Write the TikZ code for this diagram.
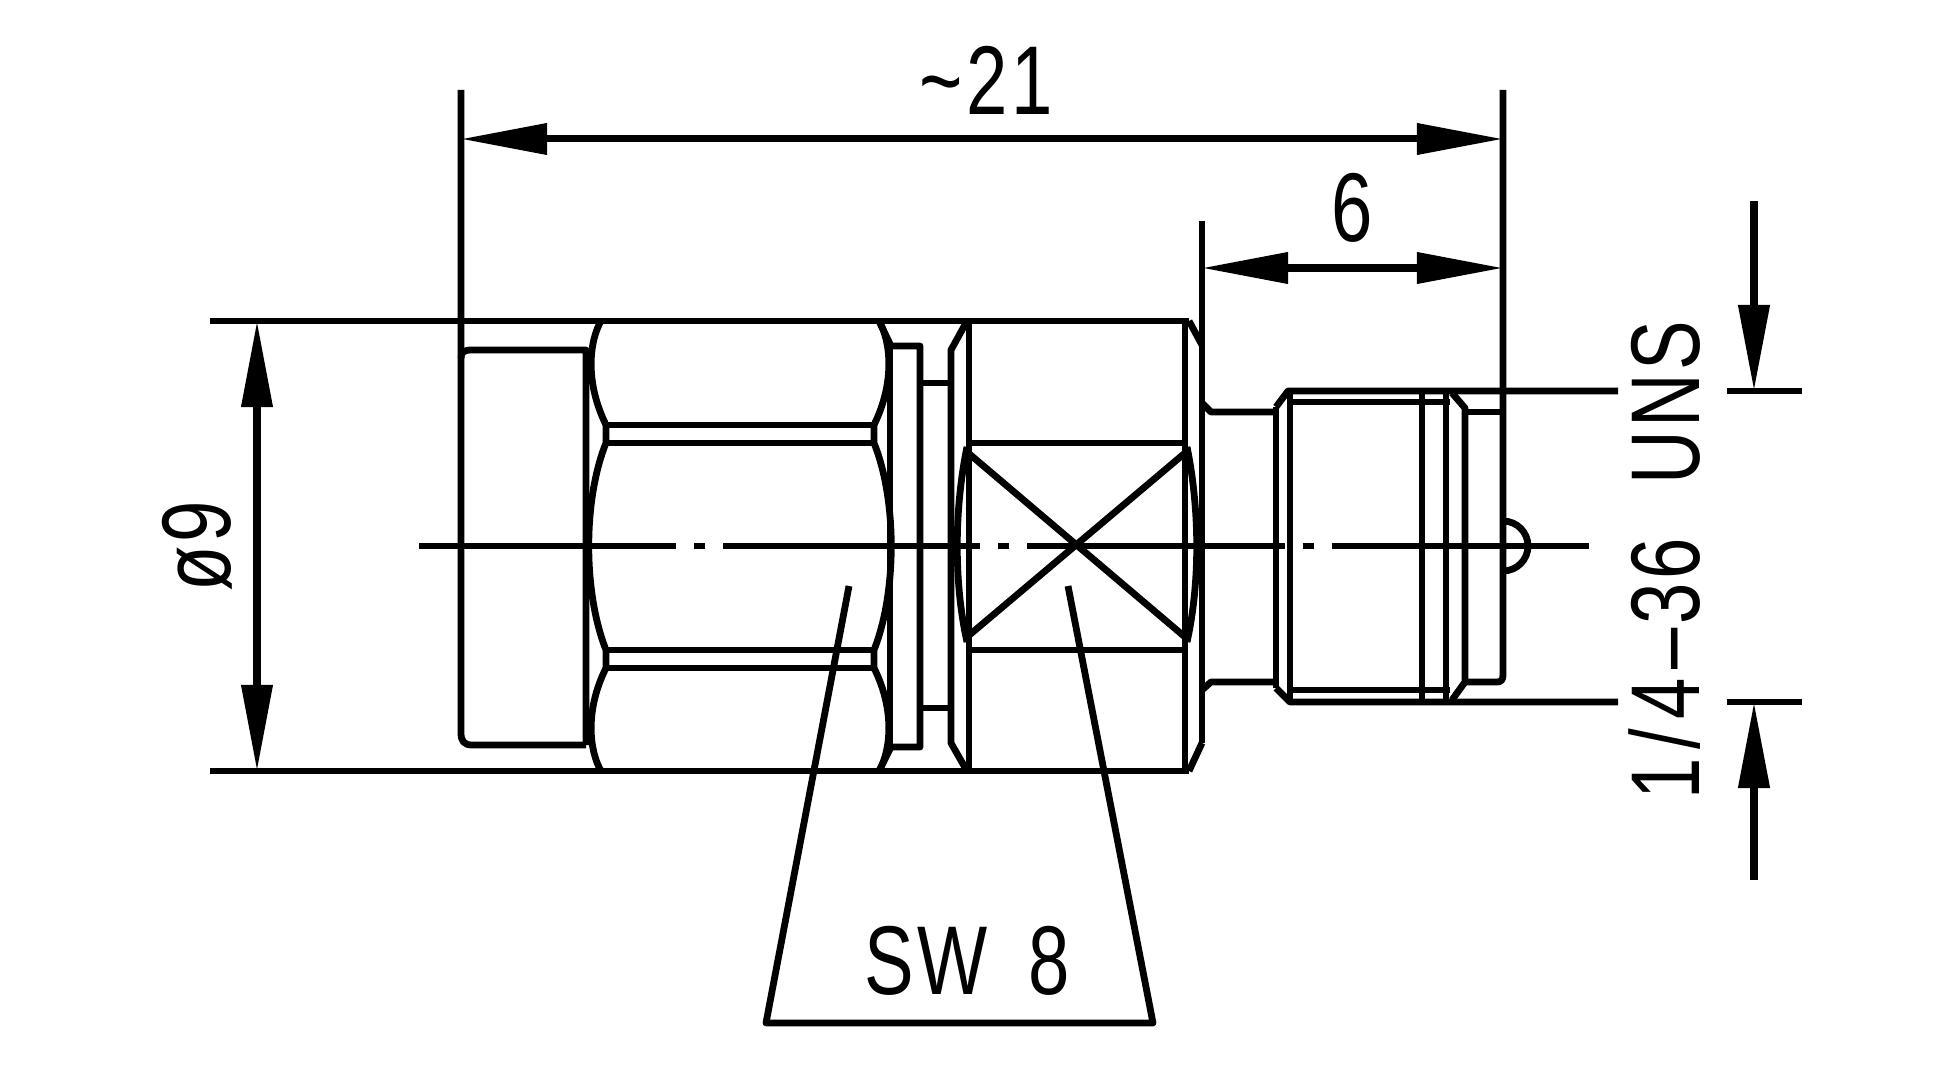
\documentclass[tikz,border=0pt]{standalone}
\usepackage{fontspec}
\setmainfont[LetterSpace=5]{Liberation Sans}
\usetikzlibrary{arrows.meta}
\tikzset{
    outline/.style={line width=0.068cm, line join=round},
    dimline/.style={line width=0.075cm},
    dimarrow/.style={line width=0.07cm, {Triangle[length=0.86cm, width=0.3cm]}-{Triangle[length=0.86cm, width=0.3cm]}},
    midline/.style={line width=0.06cm, dash pattern=on 2.57cm off 0.18cm on 0.11cm off 0.18cm},
    dimtext/.style={inner sep=0pt, font=\fontsize{27.8}{28}\selectfont, xscale=0.76}
}
\begin{document}
\begin{tikzpicture}[x=0.01cm, y=-0.01cm]
    \useasboundingbox (0,0) rectangle (1944,1082);

    \draw[outline] (210,321) -- (1189,321);
    \draw[outline] (210,771) -- (1189,771);
    \draw[outline] (461,90) -- (461,733) .. controls (461,741) and (464,745) .. (472,745) -- (586,745);
    \draw[outline] (461,358) .. controls (461,352) and (464,350) .. (472,350) -- (586,350) -- (586,745);

    \draw[outline] (601,321) .. controls (590,340) and (584,380) .. (606,425) -- (606,443) .. controls (583,500) and (583,592) .. (606,650) -- (606,668) .. controls (584,712) and (590,752) .. (601,771);
    \draw[outline] (879,321) .. controls (890,340) and (896,380) .. (874,425) -- (874,443) .. controls (897,500) and (897,592) .. (874,650) -- (874,668) .. controls (896,712) and (890,752) .. (879,771);
    \draw[outline] (606,425) -- (874,425);
    \draw[outline] (606,443) -- (874,443);
    \draw[outline] (606,650) -- (874,650);
    \draw[outline] (606,668) -- (874,668);

    \draw[outline] (879,321) -- (891,346) -- (920,346) -- (920,747) -- (891,747) -- (879,771);
    \draw[outline] (890,346) -- (890,747);
    \draw[outline] (920,383) -- (951,383);
    \draw[outline] (920,708) -- (951,708);

    \draw[outline] (967,321) -- (951,350) -- (951,743) -- (967,771);
    \draw[outline] (969,321) -- (969,771);
    \draw[outline] (1185,321) -- (1185,771);
    \draw[outline] (969,443) -- (1185,443);
    \draw[outline] (969,650) -- (1185,650);
    \draw[outline] (967,447) .. controls (954,510) and (954,584) .. (967,642);
    \draw[outline] (1187,447) .. controls (1200,510) and (1200,584) .. (1187,642);
    \draw[outline] (967,452) -- (1185,637);
    \draw[outline] (1185,453) -- (967,637);
    \draw[outline] (1189,321) -- (1202,345);
    \draw[outline] (1202,743) -- (1189,771);
    \draw[outline] (1202,221) -- (1202,743);
    \draw[outline] (1202,403) -- (1211,412) -- (1276,412);
    \draw[outline] (1202,690) -- (1211,682) -- (1276,682);

    \draw[outline] (1276,407) -- (1276,688);
    \draw[outline] (1276,407) -- (1288,391) -- (1618,391);
    \draw[outline] (1276,688) -- (1290,702) -- (1618,702);
    \draw[outline] (1288,402) -- (1450,402);
    \draw[outline] (1288,690) -- (1450,690);
    \draw[outline] (1290,391) -- (1290,702);
    \draw[outline] (1422,391) -- (1422,702);
    \draw[outline] (1446,391) -- (1446,702);
    \draw[outline] (1452,393) -- (1465,408) -- (1465,682) -- (1452,700);
    \draw[outline] (1465,412) -- (1503,412);
    \draw[outline] (1503,90) -- (1503,675) .. controls (1503,680) and (1501,682) .. (1497,682) -- (1465,682);
    \draw[outline] (1503,571) arc (90:-90:25);

    \draw[midline] (419,546) -- (1590,546);

    \coordinate (lenleft) at (461,139);
    \coordinate (lenright) at (1503,139);
    \coordinate (tipleft) at (1202,268);
    \coordinate (tipright) at (1503,268);
    \coordinate (diatop) at (257,321);
    \coordinate (diabottom) at (257,771);
    \coordinate (threadtop) at (1754,391);
    \coordinate (threadbottom) at (1754,702);
    \coordinate (threadabove) at (1754,201);
    \coordinate (threadbelow) at (1754,880);

    \draw[dimarrow] (lenleft) -- (lenright);
    \draw[dimarrow] (tipleft) -- (tipright);
    \draw[dimarrow] (diatop) -- (diabottom);
    \draw[dimline, -{Triangle[length=0.86cm, width=0.3cm]}] (threadabove) -- (threadtop);
    \draw[dimline, -{Triangle[length=0.86cm, width=0.3cm]}] (threadbelow) -- (threadbottom);
    \draw[outline] (1727,391) -- (1802,391);
    \draw[outline] (1727,702) -- (1802,702);

    \node[dimtext] (lentext) at (986,80) {\textasciitilde 21};
    \node[dimtext] (tiptext) at (1352,208) {6};
    \node[rotate=90, dimtext] (diatext) at (197,546) {ø9};
    \node[rotate=90, dimtext] (threadtext) at (1665,560) {1\hspace{0.12em}/\hspace{0.12em}4\hspace{0.12em}–36\hspace{0.72em}UNS};
    \node[dimtext] (swtext) at (967,961) {SW\hspace{0.55em}8};

    \draw[outline] (849,586) -- (766,1023) -- (1153,1023) -- (1068,586);
\end{tikzpicture}
\end{document}
